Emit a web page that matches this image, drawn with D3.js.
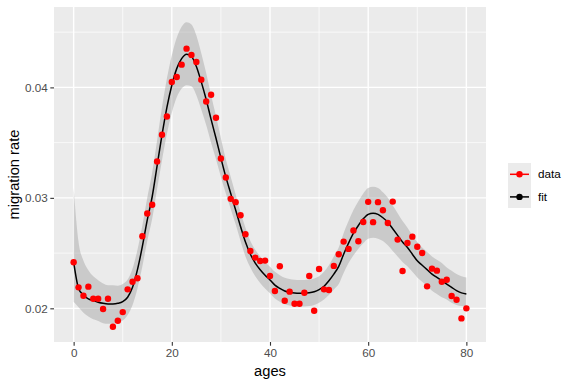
<!DOCTYPE html>
<html>
<head>
<meta charset="utf-8">
<script src="https://cdn.jsdelivr.net/npm/d3@7"></script>
<style>
  body { margin: 0; background: #fff; }
  text { font-family: "Liberation Sans", Arial, sans-serif; }
</style>
</head>
<body>
<script>
// tamaño del lienzo
const width = 576;
const height = 384;

// edades 0..80
const ages = d3.range(0, 81);

// tasa observada por edad
const observed = [
  0.02417, 0.02190, 0.02114, 0.02196, 0.02087, 0.02087, 0.01994, 0.02087, 0.01833, 0.01888,
  0.01966, 0.02172, 0.02241, 0.02272, 0.02653, 0.02858, 0.02937, 0.03329, 0.03571, 0.03737,
  0.04049, 0.04094, 0.04206, 0.04351, 0.04294, 0.04230, 0.04070, 0.03873, 0.03934, 0.03725,
  0.03356, 0.03184, 0.02991, 0.02961, 0.02843, 0.02671, 0.02519, 0.02459, 0.02429, 0.02432,
  0.02293, 0.02157, 0.02381, 0.02069, 0.02151, 0.02042, 0.02042, 0.02141, 0.02293, 0.01978,
  0.02356, 0.02172, 0.02166, 0.02384, 0.02490, 0.02604, 0.02538, 0.02704, 0.02607, 0.02782,
  0.02964, 0.02780, 0.02961, 0.02888, 0.02773, 0.02966, 0.02622, 0.02338, 0.02592, 0.02649,
  0.02558, 0.02501, 0.02199, 0.02359, 0.02341, 0.02241, 0.02259, 0.02112, 0.02078, 0.01909,
  0.02000
];

// curva ajustada
const fitted = [
  0.0242, 0.0218, 0.0212, 0.02085, 0.0207, 0.02055, 0.02045, 0.0204, 0.0204, 0.02045,
  0.0206, 0.0210, 0.0219, 0.0235, 0.0256, 0.0280, 0.0301, 0.0329, 0.0357, 0.0382,
  0.0402, 0.0417, 0.0426, 0.0430, 0.0428, 0.0419, 0.0405, 0.0389, 0.0371, 0.0354,
  0.0336, 0.0319, 0.0304, 0.0289, 0.0274, 0.0260, 0.0249, 0.0241, 0.0235, 0.0230,
  0.02257, 0.0221, 0.0218, 0.02157, 0.02145, 0.02138, 0.02136, 0.02136, 0.0214, 0.0215,
  0.0217, 0.0220, 0.0225, 0.0231, 0.0238, 0.0249, 0.0259, 0.0268, 0.0275, 0.0281,
  0.0285, 0.0286, 0.0285, 0.0282, 0.0278, 0.0272, 0.0266, 0.0260, 0.0255, 0.0249,
  0.0243, 0.0239, 0.0235, 0.0231, 0.0228, 0.0225, 0.0222, 0.0219, 0.0216, 0.0214,
  0.0213
];

// banda de confianza: límite inferior
const bandLow = [
  0.0206, 0.0201, 0.0196, 0.01925, 0.0190, 0.01885, 0.01865, 0.0186, 0.0186, 0.01875,
  0.0189, 0.0194, 0.0203, 0.0218, 0.0238, 0.0261, 0.0281, 0.0308, 0.0334, 0.0358,
  0.0377, 0.0391, 0.0399, 0.0402, 0.0401, 0.0393, 0.0380, 0.0366, 0.0350, 0.0335,
  0.0319, 0.0304, 0.0290, 0.0276, 0.0261, 0.0247, 0.0237, 0.0229, 0.0223, 0.0218,
  0.02137, 0.0209, 0.0206, 0.02037, 0.02025, 0.02018, 0.02016, 0.02016, 0.0202, 0.0203,
  0.0205, 0.0208, 0.0212, 0.0217, 0.0222, 0.0232, 0.0241, 0.0248, 0.0254, 0.0259,
  0.0263, 0.0264, 0.0263, 0.0261, 0.0257, 0.0252, 0.0247, 0.0242, 0.0238, 0.0233,
  0.0228, 0.0224, 0.0220, 0.0216, 0.0213, 0.0210, 0.0208, 0.0205, 0.0203, 0.0202,
  0.0202
];

// banda de confianza: límite superior
const bandHigh = [
  0.0309, 0.0260, 0.0243, 0.02345, 0.0229, 0.02255, 0.02225, 0.0221, 0.0221, 0.02205,
  0.0222, 0.0226, 0.0236, 0.0253, 0.0275, 0.0300, 0.0323, 0.0352, 0.0382, 0.0408,
  0.0429, 0.0445, 0.0455, 0.0459, 0.0457, 0.0447, 0.0431, 0.0413, 0.0393, 0.0374,
  0.0354, 0.0335, 0.0319, 0.0303, 0.0287, 0.0273, 0.0261, 0.0253, 0.0247, 0.0242,
  0.02377, 0.0233, 0.0230, 0.02277, 0.02265, 0.02258, 0.02256, 0.02256, 0.0226, 0.0227,
  0.0229, 0.0233, 0.0239, 0.0247, 0.0255, 0.0268, 0.0279, 0.0289, 0.0297, 0.0304,
  0.0309, 0.0310, 0.0309, 0.0305, 0.0300, 0.0293, 0.0286, 0.0279, 0.0273, 0.0266,
  0.0260, 0.0255, 0.0251, 0.0247, 0.0244, 0.0241, 0.0237, 0.0234, 0.0231, 0.0229,
  0.0228
];

const xTicks = [0, 20, 40, 60, 80];
const xMinor = [10, 30, 50, 70];
const yTicks = [0.02, 0.03, 0.04];
const yMinor = [0.025, 0.035, 0.045];
const legendLabels = ["data", "fit"];
const legendColors = ["#ff0000", "#000000"];

// panel
const panel = { left: 54, right: 486, top: 7, bottom: 342 };

// escalas con expansión del 5% como ggplot
const xMin = d3.min(ages), xMax = d3.max(ages);
const xPad = (xMax - xMin) * 0.05;
const x = d3.scaleLinear()
  .domain([xMin - xPad, xMax + xPad])
  .range([panel.left, panel.right]);

const yLo = Math.min(d3.min(observed), d3.min(bandLow));
const yHi = Math.max(d3.max(observed), d3.max(bandHigh));
const yPad = (yHi - yLo) * 0.05;
const y = d3.scaleLinear()
  .domain([yLo - yPad, yHi + yPad])
  .range([panel.bottom, panel.top]);

const svg = d3.select("body")
  .append("svg")
  .attr("width", width)
  .attr("height", height);

// fondo del panel
svg.append("rect")
  .attr("x", panel.left)
  .attr("y", panel.top)
  .attr("width", panel.right - panel.left)
  .attr("height", panel.bottom - panel.top)
  .attr("fill", "#ebebeb");

// rejilla
const grid = svg.append("g");
grid.selectAll("line.xminor").data(xMinor).enter().append("line")
  .attr("x1", d => x(d)).attr("x2", d => x(d))
  .attr("y1", panel.top).attr("y2", panel.bottom)
  .attr("stroke", "#fff").attr("stroke-width", 0.7);
grid.selectAll("line.yminor").data(yMinor).enter().append("line")
  .attr("y1", d => y(d)).attr("y2", d => y(d))
  .attr("x1", panel.left).attr("x2", panel.right)
  .attr("stroke", "#fff").attr("stroke-width", 0.7);
grid.selectAll("line.xmajor").data(xTicks).enter().append("line")
  .attr("x1", d => x(d)).attr("x2", d => x(d))
  .attr("y1", panel.top).attr("y2", panel.bottom)
  .attr("stroke", "#fff").attr("stroke-width", 1.4);
grid.selectAll("line.ymajor").data(yTicks).enter().append("line")
  .attr("y1", d => y(d)).attr("y2", d => y(d))
  .attr("x1", panel.left).attr("x2", panel.right)
  .attr("stroke", "#fff").attr("stroke-width", 1.4);

// banda
const area = d3.area()
  .x((d, i) => x(ages[i]))
  .y0((d, i) => y(bandLow[i]))
  .y1((d, i) => y(bandHigh[i]))
  .curve(d3.curveMonotoneX);

svg.append("path")
  .datum(ages)
  .attr("d", area)
  .attr("fill", "#999999")
  .attr("fill-opacity", 0.4);

// curva ajustada
const line = d3.line()
  .x((d, i) => x(ages[i]))
  .y(d => y(d))
  .curve(d3.curveMonotoneX);

svg.append("path")
  .datum(fitted)
  .attr("d", line)
  .attr("fill", "none")
  .attr("stroke", "#000")
  .attr("stroke-width", 1.5);

// puntos observados
svg.append("g")
  .selectAll("circle")
  .data(observed)
  .enter()
  .append("circle")
  .attr("cx", (d, i) => x(ages[i]))
  .attr("cy", d => y(d))
  .attr("r", 3.2)
  .attr("fill", "#ff0000");

// ejes
const xAxis = svg.append("g")
  .attr("transform", `translate(0,${panel.bottom})`)
  .call(d3.axisBottom(x).tickValues(xTicks).tickSize(3.7).tickPadding(2.5).tickFormat(d3.format("d")));
const yAxis = svg.append("g")
  .attr("transform", `translate(${panel.left},0)`)
  .call(d3.axisLeft(y).tickValues(yTicks).tickSize(3.7).tickPadding(2.5).tickFormat(d3.format(".2f")));

[xAxis, yAxis].forEach(a => {
  a.select(".domain").remove();
  a.selectAll(".tick line").attr("stroke", "#333").attr("stroke-width", 1.1);
  a.selectAll(".tick text")
    .attr("fill", "#4d4d4d")
    .style("font-size", "11.7px")
    .style("font-family", "'Liberation Sans', Arial, sans-serif");
});

// títulos
svg.append("text")
  .attr("x", (panel.left + panel.right) / 2)
  .attr("y", 376)
  .attr("text-anchor", "middle")
  .style("font-size", "14.7px")
  .text("ages");

svg.append("text")
  .attr("transform", `translate(19,${(panel.top + panel.bottom) / 2}) rotate(-90)`)
  .attr("text-anchor", "middle")
  .style("font-size", "14.7px")
  .text("migration rate");

// leyenda
const legend = svg.append("g").attr("transform", "translate(508,163)");
legend.append("rect")
  .attr("width", 23).attr("height", 45)
  .attr("fill", "#ebebeb");
const keys = legend.selectAll("g.key")
  .data(legendLabels)
  .enter()
  .append("g")
  .attr("transform", (d, i) => `translate(0,${11.3 + i * 22.6})`);
keys.append("line")
  .attr("x1", 2).attr("x2", 21)
  .attr("stroke", (d, i) => legendColors[i])
  .attr("stroke-width", 1.5);
keys.append("circle")
  .attr("cx", 11.5).attr("r", 3.2)
  .attr("fill", (d, i) => legendColors[i]);
keys.append("text")
  .attr("x", 30)
  .attr("dy", "0.35em")
  .style("font-size", "11.7px")
  .text(d => d);
</script>
</body>
</html>
